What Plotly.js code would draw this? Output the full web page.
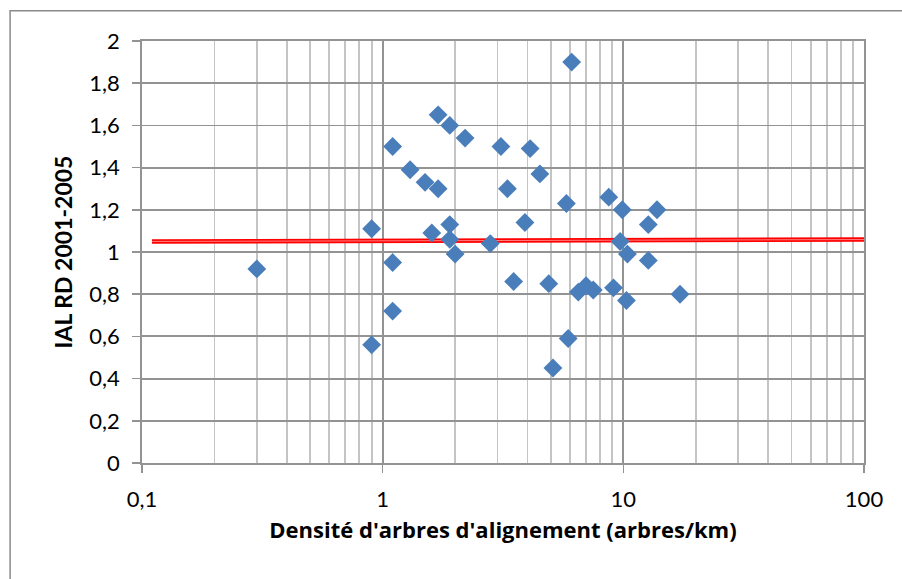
<!DOCTYPE html>
<html>
<head>
<meta charset="utf-8">
<script src="https://cdn.plot.ly/plotly-3.0.1.min.js"></script>
<style>
html,body{margin:0;padding:0;background:#fff;}
#chart{width:902px;height:579px;}
</style>
</head>
<body>
<div id="chart"></div>
<script>
// Density of alignment trees (trees/km)
const densite = [0.30, 0.90, 0.90, 1.10, 1.10, 1.10, 1.30, 1.50, 1.70, 1.70,
                 1.60, 1.90, 1.90, 1.90, 2.00, 2.20, 2.80, 3.10, 3.30, 3.50,
                 3.90, 4.10, 4.50, 4.90, 5.10, 5.80, 5.90, 6.10, 6.50, 7.00,
                 7.50, 8.70, 9.10, 9.70, 9.90, 10.3, 10.4, 12.7, 12.7, 13.8, 17.2];
// IAL RD 2001-2005
const ial = [0.92, 1.11, 0.56, 1.50, 0.95, 0.72, 1.39, 1.33, 1.30, 1.65,
             1.09, 1.60, 1.13, 1.06, 0.99, 1.54, 1.04, 1.50, 1.30, 0.86,
             1.14, 1.49, 1.37, 0.85, 0.45, 1.23, 0.59, 1.90, 0.81, 0.84,
             0.82, 1.26, 0.83, 1.05, 1.20, 0.77, 0.99, 1.13, 0.96, 1.20, 0.80];
// Trend line end points
const trendX = [0.11, 100];
const trendY = [1.050, 1.059];
// Tick labels
const xTickVals = [0.1, 1, 10, 100];
const xTickText = ['0,1', '1', '10', '100'];
const xMinorVals = [0.2, 0.3, 0.4, 0.5, 0.6, 0.7, 0.8, 0.9, 2, 3, 4, 5, 6, 7, 8, 9,
                    20, 30, 40, 50, 60, 70, 80, 90];
const yTickVals = [0, 0.2, 0.4, 0.6, 0.8, 1, 1.2, 1.4, 1.6, 1.8, 2];
const yTickText = ['0', '0,2', '0,4', '0,6', '0,8', '1', '1,2', '1,4', '1,6', '1,8', '2'];
const xTitle = "Densité d'arbres d'alignement (arbres/km)";
const yTitle = "IAL RD 2001-2005";

const traces = [
  {x: trendX, y: trendY, mode: 'lines', type: 'scatter',
   line: {color: '#ff0000', width: 4.5}, hoverinfo: 'skip', showlegend: false},
  {x: trendX, y: trendY, mode: 'lines', type: 'scatter',
   line: {color: '#ff8080', width: 1}, hoverinfo: 'skip', showlegend: false},
  {x: densite, y: ial, mode: 'markers', type: 'scatter',
   marker: {symbol: 'diamond', size: 14.5, color: '#4a7ebb', line: {width: 0}},
   showlegend: false}
];

const gridMajor = '#939393';
const layout = {
  width: 902, height: 579,
  margin: {l: 142, r: 37.7, t: 40.7, b: 116.3, pad: 0},
  paper_bgcolor: '#ffffff', plot_bgcolor: '#ffffff',
  separators: ', ',
  font: {family: 'Lato, "Open Sans", sans-serif', color: '#000000'},
  showlegend: false,
  xaxis: {
    type: 'log', range: [-1, 2], autorange: false,
    tickvals: xTickVals, ticktext: xTickText,
    ticks: 'outside', ticklen: 8, tickwidth: 1.5, tickcolor: gridMajor,
    tickfont: {size: 22, family: 'Lato, sans-serif'},
    showgrid: true, gridcolor: gridMajor, gridwidth: 1.8,
    minor: {tickvals: xMinorVals,
            showgrid: true, gridcolor: '#c4c4c4', gridwidth: 1.8, ticks: ''},
    showline: true, linecolor: gridMajor, linewidth: 1.8, mirror: true,
    zeroline: false,
    ticklabelstandoff: 8,
    title: {text: xTitle, font: {size: 22, family: '"Open Sans", sans-serif', weight: 'bold'}, standoff: 11}
  },
  yaxis: {
    range: [0, 2], autorange: false,
    tickvals: yTickVals, ticktext: yTickText,
    ticks: 'outside', ticklen: 8, tickwidth: 1.5, tickcolor: gridMajor,
    tickfont: {size: 22, family: 'Lato, sans-serif'},
    showgrid: true, gridcolor: gridMajor, gridwidth: 1.8,
    showline: true, linecolor: gridMajor, linewidth: 1.8, mirror: true,
    zeroline: false,
    ticklabelstandoff: 8,
    title: {text: yTitle, font: {size: 23, family: 'Lato, sans-serif', weight: 'bold'}, standoff: 10}
  },
  shapes: [
    {type: 'rect', xref: 'paper', yref: 'paper',
     x0: -0.1827, x1: 1.3, y0: -0.6, y1: 1.0716,
     line: {color: '#8a8a8a', width: 1.5}, fillcolor: 'rgba(0,0,0,0)', layer: 'below'}
  ]
};

Plotly.newPlot('chart', traces, layout, {staticPlot: true, displayModeBar: false});
</script>
</body>
</html>
